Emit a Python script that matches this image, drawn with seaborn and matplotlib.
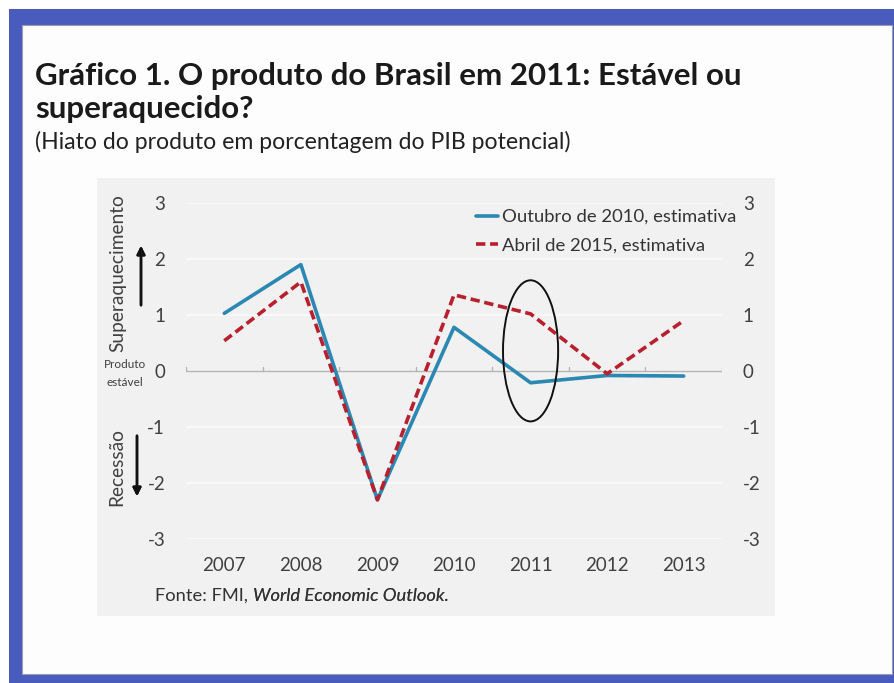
import matplotlib
matplotlib.use("Agg")
import matplotlib.pyplot as plt
import seaborn as sns
import pandas as pd
from matplotlib.patches import Rectangle, Ellipse

# ---- data ----
anos = [2007, 2008, 2009, 2010, 2011, 2012, 2013]
outubro_2010 = [1.03, 1.90, -2.30, 0.78, -0.21, -0.08, -0.09]
abril_2015 = [0.54, 1.59, -2.30, 1.36, 1.02, -0.05, 0.90]
serie_out = "Outubro de 2010, estimativa"
serie_abr = "Abril de 2015, estimativa"
yticks = [-3, -2, -1, 0, 1, 2, 3]
titulo_1 = "Gráfico 1. O produto do Brasil em 2011: Estável ou"
titulo_2 = "superaquecido?"
subtitulo = "(Hiato do produto em porcentagem do PIB potencial)"

df = pd.DataFrame({
    "ano": anos * 2,
    "valor": outubro_2010 + abril_2015,
    "serie": [serie_out] * len(anos) + [serie_abr] * len(anos),
})

sns.set_theme(style="white")
plt.rcParams["font.family"] = ["Lato", "DejaVu Sans"]

W, H = 894, 683
fig = plt.figure(figsize=(W / 100, H / 100), dpi=100)

def fx(px):
    return px / W

def fy(py):
    return 1 - py / H

# blue frame and white page
fig.patches.append(Rectangle((fx(9), -0.1), 1.2, fy(9) + 0.1, transform=fig.transFigure,
                             facecolor="#4a5bbe", edgecolor="none", zorder=-10))
fig.patches.append(Rectangle((fx(22), fy(674)), fx(892) - fx(22), fy(25) - fy(674),
                             transform=fig.transFigure, facecolor="#fdfdfd",
                             edgecolor="#9aa0aa", linewidth=0.8, zorder=-9))
# grey chart panel
fig.patches.append(Rectangle((fx(97), fy(616)), fx(775) - fx(97), fy(178) - fy(616),
                             transform=fig.transFigure, facecolor="#f1f1f1",
                             edgecolor="none", zorder=-8))

ax = fig.add_axes([fx(186), fy(539), fx(722) - fx(186), fy(203) - fy(539)])
ax.set_facecolor("none")

palette = {serie_out: "#2b88b2", serie_abr: "#b8202e"}
dashes = {serie_out: "", serie_abr: (2.6, 1.3)}
sns.lineplot(data=df, x="ano", y="valor", hue="serie", style="serie",
             palette=palette, dashes=dashes, linewidth=2.6, ax=ax, legend=True)

ax.set_xlim(2006.5, 2013.5)
ax.set_ylim(-3, 3)
ax.set_xticks(anos)
ax.set_xticklabels([str(a) for a in anos])
ax.set_yticks(yticks)
ax.set_yticklabels([str(t) for t in yticks])
ax.set_xlabel("")
ax.set_ylabel("")
for s in ax.spines.values():
    s.set_visible(False)
ax.grid(False)
for t in yticks:
    if t != 0:
        ax.axhline(t, color="#fbfbfb", linewidth=1.2, zorder=0)
ax.axhline(0, color="#b5b5b5", linewidth=1.0, zorder=1)
for b in [a + 0.5 for a in [2006] + anos]:
    ax.plot([b, b], [0, 0.07], color="#b5b5b5", linewidth=1.0, zorder=1)

ax.tick_params(axis="y", length=0, pad=15, labelsize=13.5, labelcolor="#404040",
               labelright=True, right=False)
ax.tick_params(axis="x", length=0, pad=13, labelsize=13.5, labelcolor="#404040")

# ellipse highlighting 2011
ax.add_patch(Ellipse((2011, 0.36), 0.72, 2.52, fill=False, edgecolor="#111111",
                     linewidth=1.4, zorder=5))

# legend
h, l = ax.get_legend_handles_labels()
ax.legend(h, l, loc="upper left", bbox_to_anchor=(fx(476), fy(209)),
          bbox_transform=fig.transFigure, frameon=False, fontsize=13.3,
          handlelength=1.2, handletextpad=0.2, labelspacing=0.7,
          borderpad=0, borderaxespad=0, labelcolor="#333333")

# titles
fig.text(fx(35), fy(85), titulo_1, fontsize=22.5, fontweight="bold", color="#1a1a1a",
         va="baseline", ha="left")
fig.text(fx(35), fy(118), titulo_2, fontsize=22.5, fontweight="bold", color="#1a1a1a",
         va="baseline", ha="left")
fig.text(fx(35), fy(149), subtitulo, fontsize=16.6, color="#222222",
         va="baseline", ha="left")

# side labels
fig.text(fx(118), fy(273), "Superaquecimento", rotation=90, fontsize=13.8,
         color="#404040", ha="center", va="center")
fig.text(fx(117), fy(467), "Recessão", rotation=90, fontsize=13.8,
         color="#404040", ha="center", va="center")
fig.text(fx(125), fy(364), "Produto", fontsize=8.5, color="#404040", ha="center", va="center")
fig.text(fx(125), fy(382), "estável", fontsize=8.5, color="#404040", ha="center", va="center")
fig.add_artist(plt.annotate("", xy=(fx(141), fy(243)), xytext=(fx(141), fy(308)),
                            xycoords="figure fraction", textcoords="figure fraction",
                            arrowprops=dict(arrowstyle="-|>", color="#111111", lw=1.8,
                                            mutation_scale=12)))
fig.add_artist(plt.annotate("", xy=(fx(137), fy(499)), xytext=(fx(137), fy(433)),
                            xycoords="figure fraction", textcoords="figure fraction",
                            arrowprops=dict(arrowstyle="-|>", color="#111111", lw=1.8,
                                            mutation_scale=12)))

# source
t1 = fig.text(fx(155), fy(601), "Fonte: FMI, ", fontsize=13.2, color="#333333",
              va="baseline", ha="left")
fig.add_artist(plt.annotate("World Economic Outlook.", xy=(1, 0), xycoords=t1,
                            fontsize=13.2, style="italic", color="#333333",
                            va="bottom", ha="left"))

fig.savefig("out.png", dpi=100)
